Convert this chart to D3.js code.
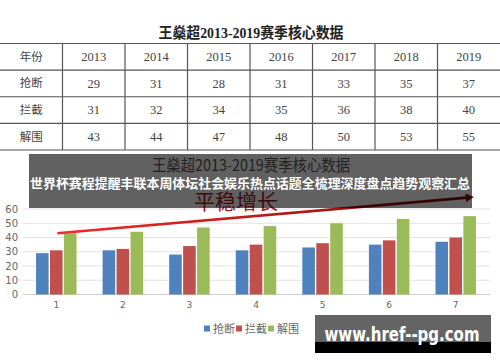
<!DOCTYPE html>
<html>
<head>
<meta charset="utf-8">
<script src="https://cdn.jsdelivr.net/npm/d3@7"></script>
<style>
  body { margin: 0; background: #fff; }
  svg { display: block; }
</style>
</head>
<body>
<svg class="chart_svg" width="500" height="362"></svg>
<script>
// table / chart data
var years = ["2013", "2014", "2015", "2016", "2017", "2018", "2019"];
var seasons = [1, 2, 3, 4, 5, 6, 7];
var seriesNames = ["抢断", "拦截", "解围"];
var steals = [29, 31, 28, 31, 33, 35, 37];
var blocks = [31, 32, 34, 35, 36, 38, 40];
var clears = [43, 44, 47, 48, 50, 53, 55];
var yTicks = [0, 10, 20, 30, 40, 50, 60];
var trendFrom = 43, trendTo = 68; // hand drawn arrow, start / end value
var colors = ["#4f81bd", "#c0504d", "#9bbb59"];

var svg = d3.select(".chart_svg");
svg.append("rect").attr("width", 500).attr("height", 362).attr("fill", "#fff");

var cjk = "'Noto Sans CJK SC', 'Noto Sans', sans-serif";
var serif = "'Liberation Serif', 'DejaVu Serif', 'Noto Sans CJK SC', serif";

// ---------- table ----------
svg.append("text")
    .text("王燊超2013-2019赛季核心数据")
    .attr("x", 251).attr("y", 38)
    .attr("text-anchor", "middle")
    .attr("textLength", 185).attr("lengthAdjust", "spacingAndGlyphs")
    .style("font-family", serif).style("font-weight", "bold")
    .style("font-size", "15px").style("fill", "#222");

var rows = [["年份"].concat(years), ["抢断"].concat(steals), ["拦截"].concat(blocks), ["解围"].concat(clears)];
var colX = d3.scaleBand().domain(d3.range(8)).range([0, 500]);
var rowY = d3.scaleBand().domain(d3.range(4)).range([43.5, 150]);

var tbl = svg.append("g");
d3.range(5).forEach(function (i) {
    var yy = i < 4 ? rowY(i) : rowY(3) + rowY.bandwidth();
    tbl.append("line").attr("x1", 0).attr("x2", 500).attr("y1", yy).attr("y2", yy)
        .attr("stroke", "#555").attr("stroke-width", 1.2);
});
d3.range(1, 8).forEach(function (i) {
    tbl.append("line").attr("x1", colX(i)).attr("x2", colX(i))
        .attr("y1", rowY(0)).attr("y2", rowY(3) + rowY.bandwidth())
        .attr("stroke", "#555").attr("stroke-width", 1.2);
});
rows.forEach(function (r, ri) {
    r.forEach(function (cell, ci) {
        tbl.append("text")
            .text(cell)
            .attr("x", colX(ci) + colX.bandwidth() / 2)
            .attr("y", rowY(ri) + rowY.bandwidth() / 2)
            .attr("dy", ".35em")
            .attr("text-anchor", "middle")
            .style("font-family", ci == 0 ? cjk : serif)
            .style("font-size", ci == 0 ? "11.5px" : "12.5px")
            .style("fill", "#444");
    });
});

// ---------- bar chart ----------
var x0 = d3.scaleBand().domain(seasons).range([23, 489]).paddingInner(0.35).paddingOuter(0.175);
var x1 = d3.scaleBand().domain(seriesNames).range([0, x0.bandwidth()]).padding(0.1);
var y = d3.scaleLinear().domain([0, 60]).range([294.5, 209]);

var chart = svg.append("g");
chart.selectAll(".grid").data(yTicks).enter().append("line")
    .attr("x1", 23).attr("x2", 490)
    .attr("y1", function (d) { return y(d); }).attr("y2", function (d) { return y(d); })
    .attr("stroke", function (d) { return d == 0 ? "#cfcfcf" : "#e3e3e3"; })
    .attr("stroke-width", 1);

var yAxis = chart.append("g").attr("transform", "translate(18,0)")
    .call(d3.axisLeft(y).tickValues(yTicks).tickSize(0).tickPadding(0));
yAxis.select(".domain").remove();
yAxis.selectAll("text").style("font-family", "'DejaVu Sans', sans-serif")
    .style("font-size", "10px").style("fill", "#666");

var xAxis = chart.append("g").attr("transform", "translate(0,302)")
    .call(d3.axisBottom(x0).tickSize(0).tickPadding(0));
xAxis.select(".domain").remove();
xAxis.selectAll("text").style("font-family", "'DejaVu Sans', sans-serif")
    .style("font-size", "9px").style("fill", "#666");

var allSeries = [steals, blocks, clears];
seasons.forEach(function (s, i) {
    var grp = chart.append("g").attr("transform", "translate(" + x0(s) + ",0)");
    grp.selectAll("rect").data(seriesNames).enter().append("rect")
        .attr("x", function (n) { return x1(n); })
        .attr("width", x1.bandwidth())
        .attr("y", function (n, k) { return y(allSeries[k][i]); })
        .attr("height", function (n, k) { return y(0) - y(allSeries[k][i]); })
        .attr("fill", function (n, k) { return colors[k]; });
});

// legend
var lg = chart.append("g").attr("transform", "translate(204,329)");
var lgX = [0, 32, 64];
seriesNames.forEach(function (n, k) {
    lg.append("rect").attr("x", lgX[k]).attr("y", -3.5).attr("width", 6).attr("height", 6).attr("fill", colors[k]);
    lg.append("text").text(n).attr("x", lgX[k] + 9).attr("y", 0).attr("dy", ".35em")
        .style("font-family", cjk).style("font-size", "11px").style("fill", "#666");
});

// chart title + note
chart.append("text").text("王燊超2013-2019赛季核心数据")
    .attr("x", 251).attr("y", 171).attr("text-anchor", "middle")
    .attr("textLength", 198).attr("lengthAdjust", "spacingAndGlyphs")
    .style("font-family", cjk).style("font-size", "15.5px").style("fill", "#595959");
chart.append("text").text("平稳增长")
    .attr("x", 236).attr("y", 209).attr("text-anchor", "middle")
    .style("font-family", cjk).style("font-size", "21px").style("fill", "#a3201c");

// trend arrow
var defs = svg.append("defs");
var grad = defs.append("linearGradient").attr("id", "arrow_grad")
    .attr("gradientUnits", "userSpaceOnUse")
    .attr("x1", x0(1)).attr("x2", 470).attr("y1", 0).attr("y2", 0);
grad.append("stop").attr("offset", "0%").attr("stop-color", "#ff2a2a");
grad.append("stop").attr("offset", "100%").attr("stop-color", "#7a0a0a");
defs.append("marker").attr("id", "arrow")
    .attr("viewBox", "0 0 10 10").attr("refX", 2).attr("refY", 5)
    .attr("markerWidth", 3.2).attr("markerHeight", 3.2).attr("orient", "auto")
    .append("path").attr("d", "M0,0 L10,5 L0,10 z").attr("fill", "#7a0a0a");
var ax1 = x0(1) + x0.bandwidth() / 2 + 1, ax2 = x0(7) + x0.bandwidth() - 10;
chart.append("line")
    .attr("x1", ax1).attr("y1", y(trendFrom))
    .attr("x2", ax2).attr("y2", y(trendTo))
    .attr("stroke", "url(#arrow_grad)").attr("stroke-width", 2.6)
    .attr("marker-end", "url(#arrow)");

// ---------- overlay banner ----------
svg.append("rect").attr("x", 29).attr("y", 154).attr("width", 443).attr("height", 54)
    .attr("fill", "#000").attr("opacity", 0.62);
svg.append("text").text("世界杯赛程提醒丰联本周体坛社会娱乐热点话题全梳理深度盘点趋势观察汇总")
    .attr("x", 250).attr("y", 188).attr("text-anchor", "middle")
    .attr("textLength", 440).attr("lengthAdjust", "spacingAndGlyphs")
    .style("font-family", cjk).style("font-weight", "bold")
    .style("font-size", "13px").style("fill", "#fff");

// ---------- watermark ----------
var wm = svg.append("g");
wm.append("rect").attr("x", 315).attr("y", 315).attr("width", 176).attr("height", 38).attr("fill", "#646464");
wm.append("rect").attr("x", 315).attr("y", 342).attr("width", 176).attr("height", 11).attr("fill", "#000");
wm.append("text").text("www.href--pg.com")
    .attr("x", 402).attr("y", 341).attr("text-anchor", "middle")
    .attr("textLength", 155).attr("lengthAdjust", "spacingAndGlyphs")
    .style("font-family", "'DejaVu Sans', sans-serif").style("font-weight", "bold")
    .style("font-size", "19px").style("fill", "#fff");
</script>
</body>
</html>
